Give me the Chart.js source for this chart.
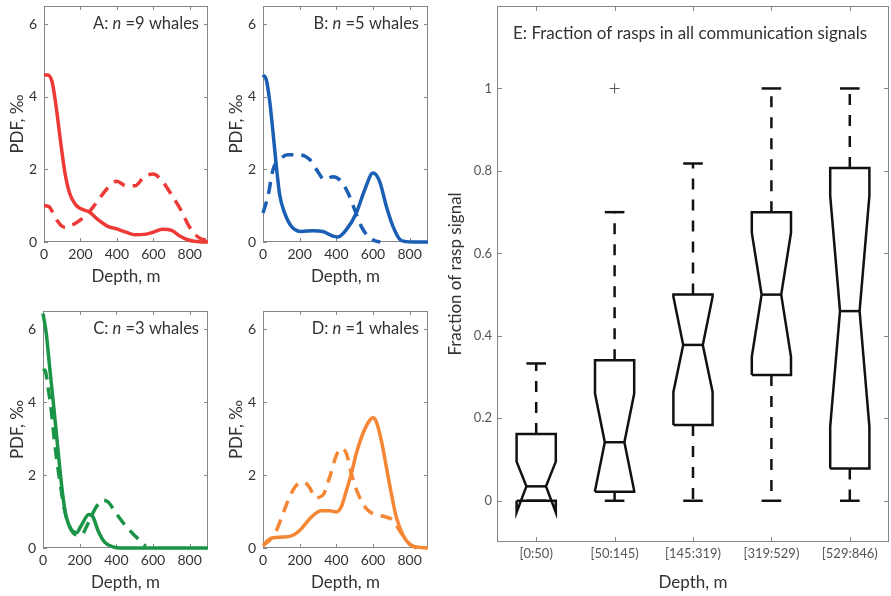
<!DOCTYPE html>
<html>
<head>
<meta charset="utf-8">
<script src="https://cdn.jsdelivr.net/npm/chart.js@4.4.1/dist/chart.umd.min.js"></script>
<style>
  html, body { margin: 0; padding: 0; background: #fff; overflow: hidden; }
  body { width: 891px; height: 596px; position: relative; }
  canvas { position: absolute; }
</style>
</head>
<body>
<canvas id="panelA"></canvas>
<canvas id="panelB"></canvas>
<canvas id="panelC"></canvas>
<canvas id="panelD"></canvas>
<canvas id="panelE"></canvas>
<script>
Chart.defaults.font.family = "Lato, 'Open Sans', sans-serif";
Chart.defaults.color = "#333";
Chart.defaults.animation = false;

// axes of the small PDF panels
const depthTicks = [0, 200, 400, 600, 800];
const pdfTicks = [0, 2, 4, 6];

// A: n = 9 whales (red)
const depthA_solid = [0, 20, 45, 70, 90, 115, 140, 170, 200, 250, 300, 350, 400, 450, 500, 550, 600, 650, 700, 750, 800, 850, 900];
const pdfA_solid = [4.6, 4.6, 4.4, 3.6, 2.8, 1.9, 1.35, 1.05, 0.92, 0.82, 0.6, 0.43, 0.36, 0.27, 0.2, 0.21, 0.27, 0.35, 0.32, 0.15, 0.04, 0.01, 0.0];
const depthA_dashed = [0, 25, 50, 75, 100, 125, 150, 200, 250, 300, 350, 400, 450, 500, 550, 600, 650, 700, 750, 800, 850, 900];
const pdfA_dashed = [1.0, 0.98, 0.8, 0.57, 0.43, 0.4, 0.45, 0.61, 0.84, 1.17, 1.49, 1.67, 1.55, 1.55, 1.8, 1.87, 1.67, 1.3, 0.89, 0.4, 0.12, 0.03];

// B: n = 5 whales (blue)
const depthB_solid = [0, 18, 36, 55, 73, 91, 118, 155, 209, 273, 327, 382, 409, 455, 509, 555, 600, 636, 673, 709, 745, 782, 820, 900];
const pdfB_solid = [4.6, 4.47, 3.9, 3.0, 2.08, 1.3, 0.8, 0.43, 0.29, 0.31, 0.29, 0.16, 0.14, 0.34, 0.8, 1.44, 1.9, 1.67, 0.98, 0.43, 0.08, 0.01, 0, 0];
const depthB_dashed = [0, 27, 55, 91, 136, 200, 255, 291, 336, 382, 427, 464, 500, 536, 582, 618, 640];
const pdfB_dashed = [0.8, 1.26, 2.0, 2.27, 2.4, 2.4, 2.27, 2.0, 1.72, 1.8, 1.67, 1.35, 0.89, 0.43, 0.11, 0.02, 0];

// C: n = 3 whales (green)
const depthC_solid = [0, 18, 36, 55, 73, 91, 109, 127, 155, 182, 209, 250, 273, 300, 336, 382, 420, 900];
const pdfC_solid = [6.43, 5.88, 4.97, 4.05, 3.14, 2.22, 1.4, 0.85, 0.5, 0.42, 0.62, 0.92, 0.85, 0.48, 0.16, 0.03, 0, 0];
const depthC_dashed = [0, 10, 27, 45, 64, 91, 118, 145, 182, 209, 245, 291, 327, 355, 400, 455, 509, 560];
const pdfC_dashed = [4.85, 4.88, 4.42, 3.78, 2.86, 1.86, 1.03, 0.58, 0.36, 0.36, 0.67, 1.13, 1.31, 1.26, 0.94, 0.58, 0.3, 0.05];

// D: n = 1 whales (orange)
const depthD_solid = [0, 27, 55, 109, 164, 209, 264, 318, 364, 400, 427, 455, 482, 509, 545, 582, 600, 618, 645, 673, 700, 727, 764, 800, 836, 900];
const pdfD_solid = [0.07, 0.21, 0.28, 0.3, 0.35, 0.53, 0.85, 1.02, 1.02, 0.99, 1.13, 1.58, 2.04, 2.59, 3.14, 3.5, 3.57, 3.46, 2.96, 2.22, 1.49, 0.85, 0.35, 0.1, 0.03, 0];
const depthD_dashed = [0, 36, 73, 109, 145, 182, 225, 255, 285, 327, 364, 400, 427, 455, 482, 518, 564, 600, 655, 709, 745, 782, 809, 840];
const pdfD_dashed = [0.07, 0.21, 0.48, 0.94, 1.4, 1.72, 1.8, 1.65, 1.38, 1.45, 1.95, 2.54, 2.73, 2.59, 2.04, 1.49, 1.08, 0.94, 0.87, 0.76, 0.48, 0.21, 0.07, 0.0];

// E: fraction of rasps, notched box plot per depth bin
const depthBins = ["[0:50)", "[50:145)", "[145:319)", "[319:529)", "[529:846)"];
const whiskerLow = [0, 0, 0, 0, 0];
const q1 = [0, 0.022, 0.184, 0.305, 0.078];
const median = [0.035, 0.142, 0.378, 0.5, 0.46];
const q3 = [0.162, 0.341, 0.5, 0.7, 0.807];
const whiskerHigh = [0.333, 0.7, 0.818, 1.0, 1.0];
const notchLow = [-0.028, 0.024, 0.264, 0.349, 0.18];
const notchHigh = [0.095, 0.26, 0.495, 0.65, 0.74];
const outlierBin = [2];
const outlierValue = [1.0];
const fractionTicks = [0, 0.2, 0.4, 0.6, 0.8, 1];

function points(xs, ys) {
  return xs.map((x, i) => ({ x: x, y: ys[i] }));
}

// stop the label half-heights from pushing the plot area around
function noPad(s) {
  s.paddingTop = 0;
  s.paddingBottom = 0;
  s.paddingLeft = 0;
  s.paddingRight = 0;
}

function drawParts(ctx, parts, x, y, size, align) {
  let total = 0;
  parts.forEach((p) => {
    ctx.font = (p.italic ? "italic " : "") + size + "px Lato";
    p.w = ctx.measureText(p.text).width;
    total += p.w;
  });
  let cx = align === "right" ? x - total : x;
  ctx.textBaseline = "middle";
  ctx.textAlign = "left";
  parts.forEach((p) => {
    ctx.font = (p.italic ? "italic " : "") + size + "px Lato";
    ctx.fillText(p.text, cx, y);
    cx += p.w;
  });
}

// matlab-like box with inward ticks + panel caption
function framePlugin(tickLen, caption) {
  return {
    id: "frame",
    beforeDatasetsDraw(chart) {
      const { ctx, chartArea: a, scales } = chart;
      ctx.save();
      ctx.strokeStyle = "#858585";
      ctx.lineWidth = 1;
      ctx.strokeRect(a.left + 0.5, a.top + 0.5, a.right - a.left - 1, a.bottom - a.top - 1);
      ctx.beginPath();
      scales.x.ticks.forEach((t) => {
        const px = Math.round(scales.x.getPixelForValue(t.value)) + 0.5;
        ctx.moveTo(px, a.bottom);
        ctx.lineTo(px, a.bottom - tickLen);
        ctx.moveTo(px, a.top);
        ctx.lineTo(px, a.top + tickLen);
      });
      scales.y.ticks.forEach((t) => {
        const py = Math.round(scales.y.getPixelForValue(t.value)) + 0.5;
        ctx.moveTo(a.left, py);
        ctx.lineTo(a.left + tickLen, py);
        ctx.moveTo(a.right, py);
        ctx.lineTo(a.right - tickLen, py);
      });
      ctx.stroke();
      ctx.restore();
    },
    afterDraw(chart) {
      const { ctx, chartArea: a } = chart;
      ctx.save();
      ctx.fillStyle = "#333";
      if (caption.align === "right") {
        drawParts(ctx, caption.parts, a.right - caption.dx, a.top + caption.dy, caption.size, "right");
      } else {
        drawParts(ctx, caption.parts, a.left + caption.dx, a.top + caption.dy, caption.size, "left");
      }
      ctx.restore();
    },
  };
}

function makePanel(id, canvasLeft, chartLeft, chartTop, cw, ch, color, solid, dashed, letter, n) {
  const canvas = document.getElementById(id);
  const axisW = chartLeft - canvasLeft;
  const padRight = 16;
  const axisH = 50;
  canvas.width = axisW + cw + padRight;
  canvas.height = 6 + ch + axisH;
  canvas.style.left = canvasLeft + "px";
  canvas.style.top = chartTop - 6 + "px";

  const caption = {
    align: "right", dx: 9, dy: 18, size: 16.5,
    parts: [{ text: letter + ": " }, { text: "n", italic: true }, { text: " =" + n + " whales" }],
  };

  return new Chart(canvas, {
    type: "scatter",
    data: {
      datasets: [
        {
          data: points(solid[0], solid[1]),
          showLine: true,
          borderColor: color,
          borderWidth: 3.5,
          pointRadius: 0,
          cubicInterpolationMode: "monotone",
          clip: 4,
        },
        {
          data: points(dashed[0], dashed[1]),
          showLine: true,
          borderColor: color,
          borderWidth: 3.5,
          borderDash: [12, 8],
          pointRadius: 0,
          cubicInterpolationMode: "monotone",
          clip: 4,
        },
      ],
    },
    options: {
      responsive: false,
      layout: { padding: { top: 6, right: padRight, left: 0, bottom: 0 } },
      plugins: { legend: { display: false }, tooltip: { enabled: false } },
      scales: {
        x: {
          type: "linear",
          min: 0,
          max: 900,
          grid: { display: false, drawTicks: false },
          border: { display: false },
          afterBuildTicks: (s) => { s.ticks = depthTicks.map((v) => ({ value: v })); },
          afterFit: (s) => { s.height = axisH; noPad(s); },
          ticks: { padding: 4, maxRotation: 0, autoSkip: false, font: { size: 14 }, color: "#333" },
          title: { display: true, text: "Depth, m", font: { size: 17 }, color: "#333", padding: { top: 0, bottom: 5 } },
        },
        y: {
          min: 0,
          max: 6.5,
          grid: { display: false, drawTicks: false },
          border: { display: false },
          afterBuildTicks: (s) => { s.ticks = pdfTicks.map((v) => ({ value: v })); },
          afterFit: (s) => { s.width = axisW; noPad(s); },
          ticks: { padding: 7, font: { size: 14 }, color: "#333" },
          title: { display: true, text: "PDF, \u2030", font: { size: 17 }, color: "#333", padding: { top: 7, bottom: 0 } },
        },
      },
    },
    plugins: [framePlugin(4, caption)],
  });
}

makePanel("panelA", 0, 44, 6, 164, 236, "#ee3a36", [depthA_solid, pdfA_solid], [depthA_dashed, pdfA_dashed], "A", 9);
makePanel("panelB", 219, 263, 6, 165, 236, "#1a5fb4", [depthB_solid, pdfB_solid], [depthB_dashed, pdfB_dashed], "B", 5);
makePanel("panelC", 0, 43, 311, 165, 237, "#1b9447", [depthC_solid, pdfC_solid], [depthC_dashed, pdfC_dashed], "C", 3);
makePanel("panelD", 219, 263, 311, 165, 237, "#f58634", [depthD_solid, pdfD_solid], [depthD_dashed, pdfD_dashed], "D", 1);

// ---- panel E: notched boxes built from the quartile arrays ----
const boxHalf = 0.25;
const notchHalf = 0.125;
const capHalf = 0.125;

function seg(data, dashed) {
  return {
    data: data,
    showLine: true,
    borderColor: "#111",
    borderWidth: 2.5,
    borderDash: dashed ? [11, 10] : [],
    pointRadius: 0,
    tension: 0,
  };
}

const boxSets = [];
depthBins.forEach((bin, i) => {
  const c = i + 1;
  const L = c - boxHalf, R = c + boxHalf;
  const nl = c - notchHalf, nr = c + notchHalf;
  boxSets.push(seg([
    { x: L, y: q1[i] }, { x: L, y: notchLow[i] }, { x: nl, y: median[i] },
    { x: L, y: notchHigh[i] }, { x: L, y: q3[i] }, { x: R, y: q3[i] },
    { x: R, y: notchHigh[i] }, { x: nr, y: median[i] }, { x: R, y: notchLow[i] },
    { x: R, y: q1[i] }, { x: L, y: q1[i] },
  ], false));
  boxSets.push(seg([{ x: nl, y: median[i] }, { x: nr, y: median[i] }], false));
  if (whiskerHigh[i] > q3[i]) {
    boxSets.push(seg([{ x: c, y: q3[i] }, { x: c, y: whiskerHigh[i] }], true));
  }
  if (whiskerLow[i] < q1[i]) {
    boxSets.push(seg([{ x: c, y: q1[i] }, { x: c, y: whiskerLow[i] }], true));
  }
  boxSets.push(seg([{ x: c - capHalf, y: whiskerHigh[i] }, { x: c + capHalf, y: whiskerHigh[i] }], false));
  boxSets.push(seg([{ x: c - capHalf, y: whiskerLow[i] }, { x: c + capHalf, y: whiskerLow[i] }], false));
});
boxSets.push({
  data: points(outlierBin, outlierValue),
  showLine: false,
  pointStyle: "cross",
  pointRadius: 5,
  borderColor: "#555",
  borderWidth: 1,
});

const canvasE = document.getElementById("panelE");
canvasE.width = 455;
canvasE.height = 596;
canvasE.style.left = "440px";
canvasE.style.top = "0px";

new Chart(canvasE, {
  type: "scatter",
  data: { datasets: boxSets },
  options: {
    responsive: false,
    layout: { padding: { top: 5, right: 2, left: 0, bottom: 0 } },
    plugins: { legend: { display: false }, tooltip: { enabled: false } },
    scales: {
      x: {
        type: "linear",
        min: 0.5,
        max: 5.5,
        grid: { display: false, drawTicks: false },
        border: { display: false },
        afterBuildTicks: (s) => { s.ticks = depthBins.map((b, i) => ({ value: i + 1 })); },
        afterFit: (s) => { s.height = 54; noPad(s); },
        ticks: {
          padding: 4, maxRotation: 0, autoSkip: false, font: { size: 13 }, color: "#555",
          callback: (v, i) => depthBins[i],
        },
        title: { display: true, text: "Depth, m", font: { size: 17 }, color: "#333", padding: { top: 0, bottom: 3 } },
      },
      y: {
        min: -0.1,
        max: 1.2,
        grid: { display: false, drawTicks: false },
        border: { display: false },
        afterBuildTicks: (s) => { s.ticks = fractionTicks.map((v) => ({ value: v })); },
        afterFit: (s) => { s.width = 57; noPad(s); },
        ticks: { padding: 5, font: { size: 13 }, color: "#555", callback: (v) => String(v) },
        title: { display: true, text: "Fraction of rasp signal", font: { size: 17 }, color: "#333", padding: { top: 5, bottom: 0 } },
      },
    },
  },
  plugins: [framePlugin(5, {
    align: "left", dx: 16, dy: 28, size: 17,
    parts: [{ text: "E: Fraction of rasps in all communication signals" }],
  })],
});
</script>
</body>
</html>
